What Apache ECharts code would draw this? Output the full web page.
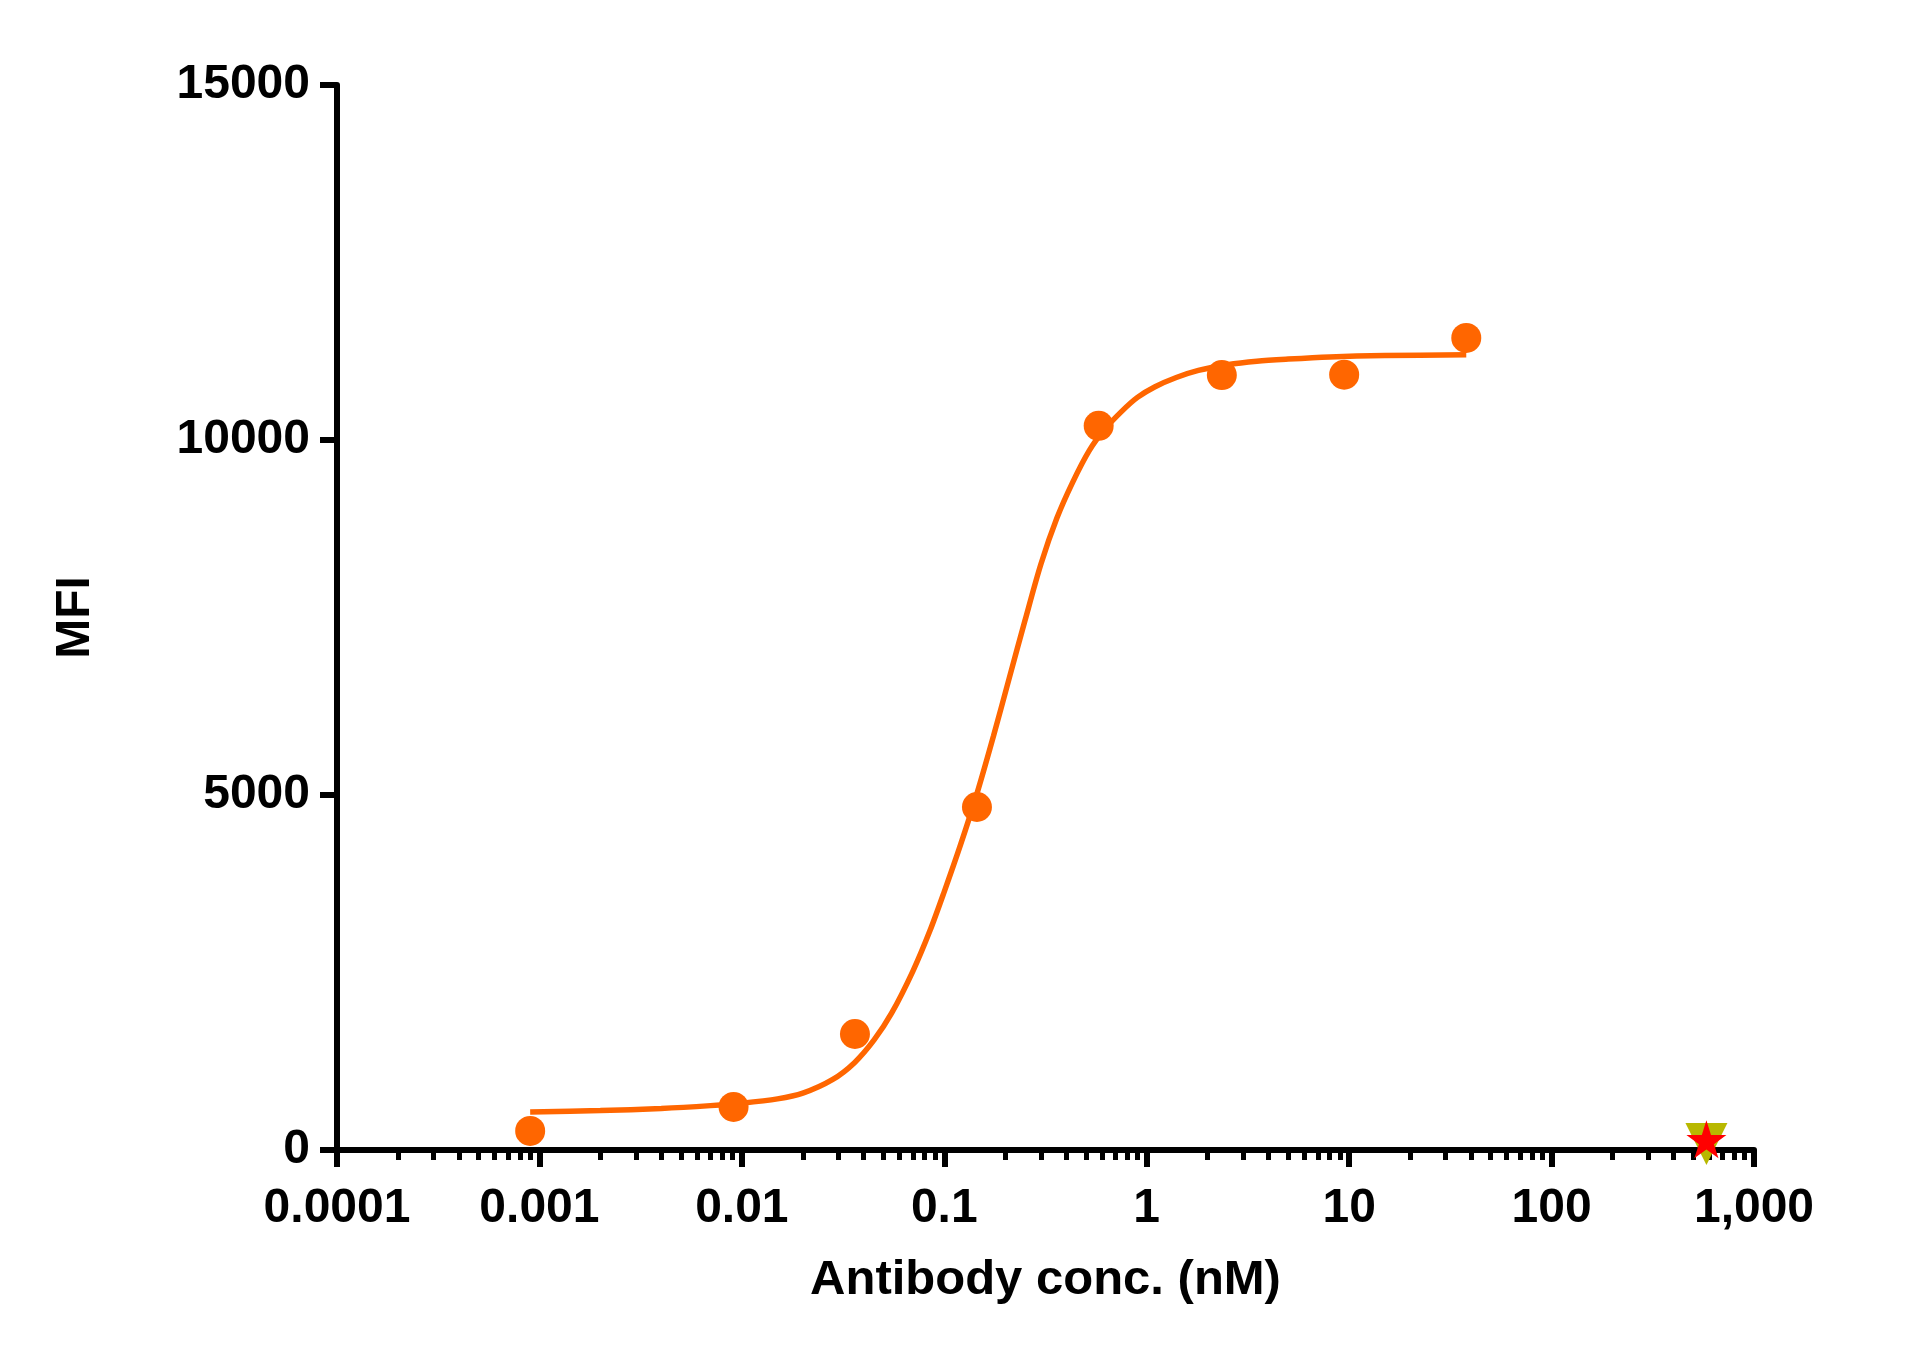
<!DOCTYPE html>
<html>
<head>
<meta charset="utf-8">
<title>MFI vs Antibody conc.</title>
<script src="https://cdn.jsdelivr.net/npm/echarts@6/dist/echarts.min.js"></script>
<style>
  html, body { margin: 0; padding: 0; background: #fff; }
  #main { width: 1905px; height: 1350px; }
</style>
</head>
<body>
<div id="main"></div>
<script>
// 数据点 (nM, MFI)
let concList = [0.0009, 0.0091, 0.0362, 0.145, 0.579, 2.35, 9.45, 37.9]
let mfiList = [268, 606, 1634, 4831, 10200, 10915, 10920, 11437]

// 对照组
let ctrlConc = [582]
let triangleMfi = [85]
let starMfi = [150]

// 拟合曲线
let curveConc = [0.0009, 0.002, 0.004, 0.007, 0.01, 0.015, 0.02, 0.028, 0.036, 0.045, 0.055, 0.07, 0.085, 0.1, 0.12, 0.145, 0.175, 0.21, 0.25, 0.3, 0.36, 0.43, 0.52, 0.62, 0.75, 0.9, 1.1, 1.4, 1.8, 2.5, 3.5, 5, 8, 15, 37.9]
let curveMfi = [535, 555, 585, 625, 660, 720, 800, 990, 1230, 1550, 1930, 2520, 3090, 3640, 4290, 5020, 5830, 6660, 7450, 8250, 8900, 9400, 9850, 10150, 10400, 10600, 10750, 10880, 10980, 11060, 11110, 11140, 11170, 11190, 11200]

// 刻度
let majorTicks = [0.0001, 0.001, 0.01, 0.1, 1, 10, 100, 1000]
let tickLabels = ['0.0001', '0.001', '0.01', '0.1', '1', '10', '100', '1,000']
let yTicks = [0, 5000, 10000, 15000]

let minorTicks = []
for (let i = 0; i < majorTicks.length - 1; i++) {
  for (let m = 2; m <= 9; m++) {
    minorTicks.push(+(majorTicks[i] * m).toPrecision(3))
  }
}

let zip = (xs, ys) => xs.map((x, i) => [x, ys[i]])

let font = "'Liberation Sans', Arial, sans-serif"
let orange = '#ff6600'
let starPath = 'path://M50,0 L61,35 L98,35 L68,57 L79,91 L50,70 L21,91 L32,57 L2,35 L39,35 Z'

let myChart = echarts.init(document.getElementById('main'))

let option = {
  animation: false,
  backgroundColor: '#fff',
  grid: { left: 337, right: 151, top: 85, bottom: 200 },
  xAxis: [
    {
      type: 'log',
      min: 0.0001,
      max: 1000,
      position: 'bottom',
      name: 'Antibody conc. (nM)',
      nameLocation: 'middle',
      nameGap: 106,
      nameTextStyle: { color: '#000', fontSize: 49, fontWeight: 'bold', fontFamily: font },
      axisLine: { show: true, lineStyle: { color: '#000', width: 6 } },
      axisTick: { show: true, length: 17, customValues: majorTicks, lineStyle: { color: '#000', width: 6 } },
      axisLabel: {
        customValues: majorTicks,
        margin: 35,
        color: '#000',
        fontSize: 48,
        fontWeight: 'bold',
        fontFamily: font,
        formatter: v => tickLabels[Math.round(Math.log10(v)) + 4]
      },
      splitLine: { show: false }
    },
    {
      type: 'log',
      min: 0.0001,
      max: 1000,
      position: 'bottom',
      axisLine: { show: false },
      axisTick: { show: true, length: 10, customValues: minorTicks, lineStyle: { color: '#000', width: 5 } },
      axisLabel: { show: false },
      splitLine: { show: false }
    }
  ],
  yAxis: {
    type: 'value',
    min: 0,
    max: 15000,
    interval: 5000,
    name: 'MFI',
    nameLocation: 'middle',
    nameGap: 237,
    nameTextStyle: { color: '#000', fontSize: 48, fontWeight: 'bold', fontFamily: font },
    axisLine: { show: true, lineStyle: { color: '#000', width: 6 } },
    axisTick: { show: true, length: 17, customValues: yTicks, lineStyle: { color: '#000', width: 6 } },
    axisLabel: {
      margin: 27,
      color: '#000',
      fontSize: 48,
      fontWeight: 'bold',
      fontFamily: font,
      padding: [7, 0, 0, 0],
      formatter: v => String(v)
    },
    splitLine: { show: false }
  },
  series: [
    {
      name: 'fit',
      type: 'line',
      data: zip(curveConc, curveMfi),
      smooth: 0.3,
      showSymbol: false,
      lineStyle: { color: orange, width: 5.5 },
      z: 2
    },
    {
      name: 'antibody',
      type: 'scatter',
      data: zip(concList, mfiList),
      symbol: 'circle',
      symbolSize: 30,
      itemStyle: { color: orange, opacity: 1 },
      z: 3
    },
    {
      name: 'ctrl1',
      type: 'scatter',
      data: zip(ctrlConc, triangleMfi),
      symbol: 'triangle',
      symbolRotate: 180,
      symbolSize: [42, 42],
      itemStyle: { color: '#b8b800', opacity: 1 },
      z: 4
    },
    {
      name: 'ctrl2',
      type: 'scatter',
      data: zip(ctrlConc, starMfi),
      symbol: starPath,
      symbolSize: [40, 38],
      itemStyle: { color: '#ff0000', opacity: 1 },
      z: 5
    }
  ]
}

myChart.setOption(option)
</script>
</body>
</html>
